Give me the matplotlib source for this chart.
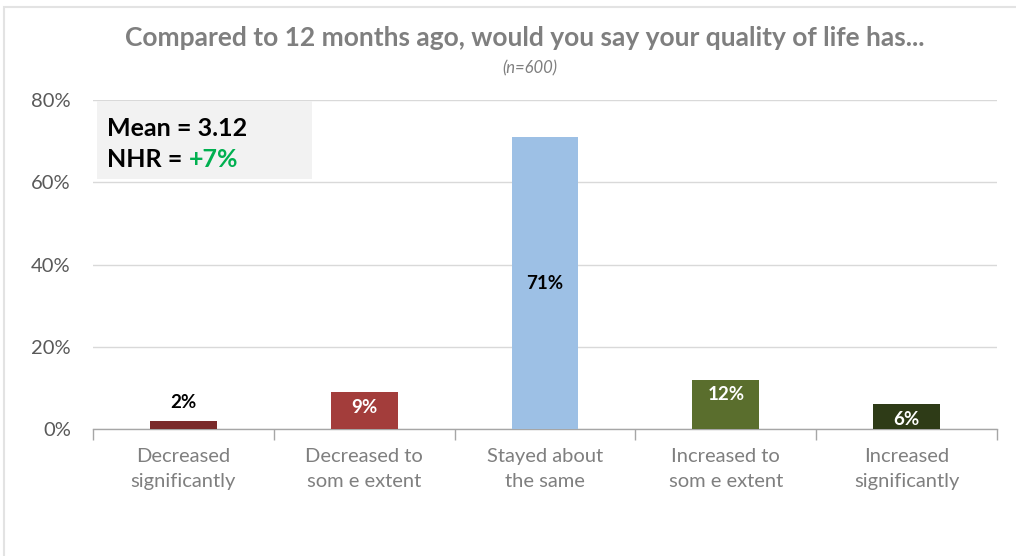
import matplotlib
matplotlib.use("Agg")
import matplotlib.pyplot as plt
from matplotlib.patches import Rectangle
import numpy as np

categories = ["Decreased\nsignificantly", "Decreased to\nsom e extent", "Stayed about\nthe same",
              "Increased to\nsom e extent", "Increased\nsignificantly"]
values = [2, 9, 71, 12, 6]
bar_colors = ["#7A2A2A", "#A33D3B", "#9DC0E5", "#5A6E2D", "#2E3B17"]
label_colors = ["black", "white", "black", "white", "white"]
yticks = [0, 20, 40, 60, 80]
title = "Compared to 12 months ago, would you say your quality of life has..."
subtitle = "(n=600)"
mean_text = "Mean = 3.12"
nhr_value = "+7%"

plt.rcParams['font.family'] = ['Lato', 'DejaVu Sans']

fig = plt.figure(figsize=(10.16, 5.56), dpi=100)
fig.patch.set_facecolor("white")

# light outer frame
fig.add_artist(Rectangle((4 / 1016, -0.1), 1.2, 1 - 7 / 556 + 0.1, transform=fig.transFigure,
                         fill=False, edgecolor="#E3E3E3", linewidth=1.5))

ax = fig.add_axes([93 / 1016, 1 - 429 / 556, 904 / 1016, 329 / 556])
x = np.arange(len(values))
bars = ax.bar(x, values, width=0.37, color=bar_colors, zorder=3)

ax.set_xlim(-0.5, len(values) - 0.5)
ax.set_ylim(0, 80)
ax.set_yticks(yticks)
ax.set_yticklabels([f"{v}%" for v in yticks], color="#595959", fontsize=14.5)
ax.yaxis.grid(True, color="#D9D9D9", linewidth=1, zorder=0)
ax.tick_params(axis="y", length=0, pad=16)

ax.set_xticks(x)
ax.set_xticklabels(categories, color="#7F7F7F", fontsize=14.5, linespacing=1.55)
ax.tick_params(axis="x", length=0, pad=14)
ax.set_xticks(np.arange(-0.5, len(values)), minor=True)
ax.tick_params(axis="x", which="minor", length=8, color="#A6A6A6", width=1)

for s in ["top", "right", "left"]:
    ax.spines[s].set_visible(False)
ax.spines["bottom"].set_color("#A6A6A6")
ax.spines["bottom"].set_linewidth(1)

# value labels
for xi, v, lc in zip(x, values, label_colors):
    if lc == "black" and v < 5:
        ax.text(xi, v + 2.4, f"{v}%", ha="center", va="bottom", fontsize=13.5,
                fontweight="bold", color=lc, zorder=5)
    elif v > 40:
        ax.text(xi, v / 2, f"{v}%", ha="center", va="center", fontsize=13.5,
                fontweight="bold", color=lc, zorder=5)
    else:
        ax.text(xi, v - 1.6, f"{v}%", ha="center", va="top", fontsize=13.5,
                fontweight="bold", color=lc, zorder=5)

# summary box
ax.add_patch(Rectangle((0.004, 60.8 / 80), 0.238, 19.0 / 80, transform=ax.transAxes,
                       facecolor="#F2F2F2", edgecolor="none", zorder=4))
ax.text(0.016, 73.0, mean_text, transform=ax.get_yaxis_transform(), fontsize=18,
        fontweight="bold", color="black", va="center", zorder=5)
t = ax.text(0.016, 65.6, "NHR = ", transform=ax.get_yaxis_transform(), fontsize=18,
            fontweight="bold", color="black", va="center", zorder=5)
fig.canvas.draw()
bb = t.get_window_extent()
inv = ax.transAxes.inverted()
x_end = inv.transform((bb.x1, bb.y0))[0]
ax.text(x_end, 65.6, nhr_value, transform=ax.get_yaxis_transform(), fontsize=18,
        fontweight="bold", color="#00B050", va="center", zorder=5)

fig.text(525 / 1016, 1 - 38 / 556, title, ha="center", va="center", fontsize=19,
         fontweight="bold", color="#7F7F7F")
fig.text(530 / 1016, 1 - 68 / 556, subtitle, ha="center", va="center", fontsize=12,
         style="italic", color="#7F7F7F")

fig.savefig("out.png", dpi=100, facecolor="white")
